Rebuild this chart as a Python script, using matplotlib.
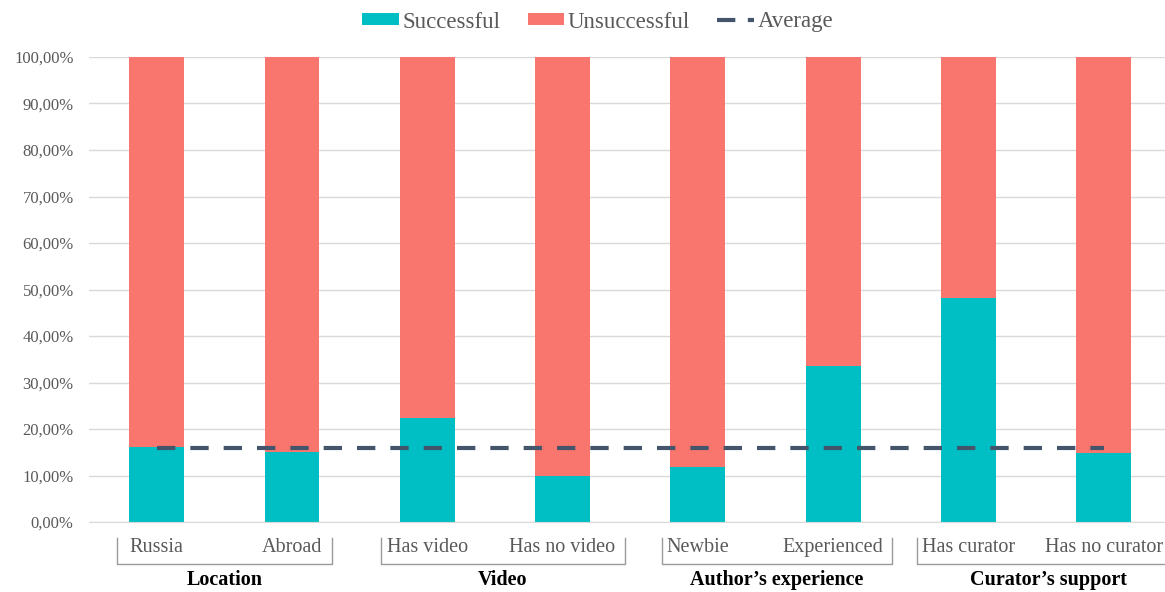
import matplotlib
matplotlib.use("Agg")
import matplotlib.pyplot as plt
from matplotlib.lines import Line2D
from matplotlib.patches import Patch

# ---- data ----
categories = ["Russia", "Abroad", "Has video", "Has no video",
              "Newbie", "Experienced", "Has curator", "Has no curator"]
groups = ["Location", "Video", "Author\u2019s experience", "Curator\u2019s support"]
successful = [16.1, 15.1, 22.3, 9.8, 11.9, 33.6, 48.1, 14.8]
unsuccessful = [83.9, 84.9, 77.7, 90.2, 88.1, 66.4, 51.9, 85.2]
average = 15.9
yticks = [0, 10, 20, 30, 40, 50, 60, 70, 80, 90, 100]
ytick_labels = ["0,00%", "10,00%", "20,00%", "30,00%", "40,00%", "50,00%",
                "60,00%", "70,00%", "80,00%", "90,00%", "100,00%"]

# ---- style ----
TEAL = "#00BFC4"
SALMON = "#F8766D"
AVG = "#44546A"
GRID = "#D9D9D9"
TXT = "#595959"
plt.rcParams["font.family"] = ["Liberation Serif", "DejaVu Serif"]

W, H = 1165, 592
fig = plt.figure(figsize=(W / 100, H / 100), dpi=100)
left_px, right_px, bottom_px, top_px = 89, 89 + 135.3 * 8, 522, 57
ax = fig.add_axes([left_px / W, (H - bottom_px) / H,
                   (right_px - left_px) / W, (bottom_px - top_px) / H])

x = list(range(len(categories)))
bw = 0.405
ax.bar(x, successful, width=bw, color=TEAL, zorder=2, label="Successful")
ax.bar(x, unsuccessful, width=bw, bottom=successful, color=SALMON, zorder=2,
       label="Unsuccessful")
ax.plot(x, [average] * len(x), color=AVG, lw=3.0, dashes=(4.4, 3.6),
        dash_capstyle="butt", zorder=3, label="Average")

ax.set_xlim(-0.5, 7.5)
ax.set_ylim(0, 100)
ax.set_yticks(yticks)
ax.set_yticklabels(ytick_labels)
ax.yaxis.grid(True, color=GRID, lw=1, zorder=0)
ax.set_axisbelow(True)
for s in ["top", "right", "left"]:
    ax.spines[s].set_visible(False)
ax.spines["bottom"].set_color(GRID)
ax.tick_params(axis="y", length=0, pad=11, labelsize=12, labelcolor=TXT)
ax.tick_params(axis="x", length=0, labelbottom=False)

# category labels and group brackets
tr = ax.get_xaxis_transform()
def frac(py):
    return (bottom_px - py) / (bottom_px - top_px)

for xi, c in zip(x, categories):
    ax.text(xi, frac(552), c, transform=tr, ha="center", va="baseline",
            fontsize=14.5, color=TXT, clip_on=False)

group_spans = [(-0.295, 1.294), (1.657, 3.461), (3.733, 5.433), (5.617, 7.56)]
bk = "#9A9A9A"
for (a, b), g in zip(group_spans, groups):
    ytop, ybot = frac(538), frac(564)
    ax.add_line(Line2D([a, a, b, b], [ytop, ybot, ybot, ytop], transform=tr,
                       color=bk, lw=1, clip_on=False))
    ax.text((a + b) / 2, frac(585), g, transform=tr, ha="center", va="baseline",
            fontsize=14.5, fontweight="bold", color="black", clip_on=False)

handles = [Patch(facecolor=TEAL, edgecolor="none"),
           Patch(facecolor=SALMON, edgecolor="none"),
           Line2D([0], [0], color=AVG, lw=3.0, dashes=(4.4, 3.0))]
fig.legend(handles, ["Successful", "Unsuccessful", "Average"], loc="center",
           bbox_to_anchor=(597.5 / W, 1 - 22 / H), ncol=3, frameon=False,
           fontsize=16.5, handlelength=1.6, handleheight=0.42,
           handletextpad=0.15, columnspacing=1.2, labelcolor=TXT)

fig.savefig("out.png", dpi=100)
